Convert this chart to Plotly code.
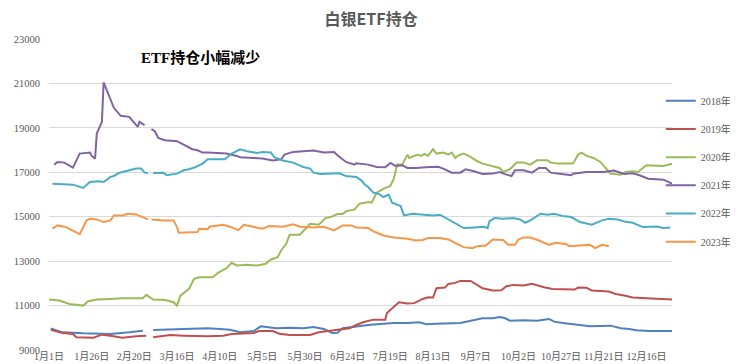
import datetime as dt
import plotly.graph_objects as go

# ---- categories: every calendar day (leap-year calendar, 366 days) ----
start = dt.date(2020, 1, 1)
categories = [f"{(start + dt.timedelta(days=i)).month}月{(start + dt.timedelta(days=i)).day}日" for i in range(366)]
tick_labels = ["1月1日", "1月26日", "2月20日", "3月16日", "4月10日", "5月5日", "5月30日",
               "6月24日", "7月19日", "8月13日", "9月7日", "10月2日", "10月27日", "11月21日", "12月16日"]
y_ticks = [9000, 11000, 13000, 15000, 17000, 19000, 21000, 23000]

# ---- series (day-of-year index, value) ----
d2018 = [1, 8, 20, 36, 47, 55, 59, 61, 79, 93, 100, 106, 112, 120, 124, 129, 133, 141, 149, 155, 161, 166, 169, 172, 180, 187,
         192, 202, 210, 217, 221, 227, 241, 249, 254, 260, 264, 267, 270, 278, 286, 293, 296, 301, 309, 317, 329, 335, 340, 344, 352, 365]
v2018 = [9975, 9795, 9750, 9720, 9795, 9870, None, 9900, 9946, 9975, 9946, 9915, 9795, 9855, 10066, 10021, 9976, 10006, 9976, 10036, 9946, 9765, 9780, 9976, 10066, 10126,
         10156, 10216, 10216, 10246, 10156, 10186, 10216, 10367, 10427, 10427, 10487, 10440, 10322, 10340, 10322, 10397, 10277, 10216, 10126, 10066, 10096, 9976, 9946, 9885, 9855, 9855]

d2019 = [1, 8, 14, 16, 26, 31, 36, 43, 51, 57, 59, 61, 71, 79, 93, 102, 107, 120, 123, 131, 135, 141, 153, 158, 165, 170, 176, 180, 184,
         190, 197, 198, 202, 205, 210, 214, 219, 222, 225, 227, 232, 234, 238, 241, 247, 251, 254, 260, 265, 268, 272,
         278, 283, 290, 295, 308, 310, 315, 318, 328, 332, 337, 342, 350, 358, 365]
v2019 = [9915, 9765, 9720, 9570, 9555, 9690, 9645, 9555, 9615, 9645, None, 9570, 9675, 9645, 9615, 9645, 9720, 9765, 9855, 9855, 9735, 9675, 9675, 9795, 9855, 9915, 9976, 10126, 10246,
         10367, 10367, 10668, 10968, 11149, 11089, 11110, 11299, 11374, 11360, 11780, 11810, 11976, 12021, 12111, 12111, 11931, 11780, 11675, 11690, 11871, 11931,
         11901, 11976, 11826, 11750, 11720, 11810, 11800, 11675, 11630, 11525, 11450, 11360, 11330, 11299, 11269]

d2020 = [0, 6, 12, 20, 23, 28, 36, 43, 51, 55, 57, 61, 68, 73, 75, 77, 79, 82, 85, 88, 93,
         96, 99, 104, 107, 110, 116, 122, 127, 130, 134, 136, 139, 141, 147, 150, 153, 158, 162, 165, 169, 172, 174, 179, 182, 187,
         189, 192, 196, 200, 202, 204, 207, 210, 211, 216, 218, 220, 222, 225, 227, 231, 234, 236, 238, 240, 243, 247, 251, 254, 258, 261, 264, 266, 270, 274, 278,
         282, 286, 292, 294, 298, 307, 310, 312, 315, 319, 323, 326, 329, 335, 338, 342, 345, 350, 355, 360, 365]
v2020 = [11269, 11224, 11074, 10999, 11194, 11269, 11299, 11330, 11330, 11330, 11480, 11269, 11254, 11149, 10999, 11450, 11570, 11750, 12202, 12277, 12277,
         12277, 12473, 12683, 12924, 12804, 12834, 12804, 12879, 13074, 13179, 13480, 13781, 14187, 14187, 14428, 14683, 14639, 14939, 14984, 15120, 15120, 15240, 15330, 15586, 15661,
         15631, 16082, 16262, 16383, 16714, 17345, 17345, 17796, 17646, 17796, 17736, 17827, 17736, 18037, 17842, 17887, 17796, 17887, 17646, 17766, 17842, 17691, 17496, 17390, 17315, 17240, 17195, 17015, 17135, 17436, 17436,
         17345, 17541, 17541, 17436, 17390, 17390, 17797, 17887, 17736, 17646, 17466, 17195, 16939, 16894, 17015, 17044, 17015, 17315, 17285, 17285, 17390]

d2021 = [3, 5, 9, 14, 18, 24, 25, 27, 28, 31, 32, 35, 38, 42, 47, 52, 53, 56, 58, 60, 62, 64, 68, 75, 80, 84, 87, 90, 93,
         104, 110, 112, 120, 125, 131, 136, 138, 143, 149, 155, 161, 167, 169, 174, 179, 180, 187,
         192, 197, 200, 203, 207, 210, 215, 223, 228, 231, 236, 241, 244, 249, 254, 260, 264, 268, 271, 273, 278,
         283, 287, 291, 294, 299, 306, 307, 315, 325, 331, 337, 342, 346, 351, 360, 365]
v2021 = [17345, 17466, 17436, 17210, 17842, 17887, 17736, 17616, 18744, 19270, 21045, 20444, 19902, 19541, 19496, 19045, 19270, 19120, None, 18940, 18850, 18548, 18443, 18398, 18187, 18037, 17992, 17887, 17887,
         17842, 17736, 17676, 17646, 17616, 17526, 17586, 17797, 17917, 17947, 17977, 17887, 17917, 17766, 17466, 17345, 17406, 17345,
         17240, 17225, 17420, 17285, 17315, 17195, 17195, 17240, 17250, 17165, 16984, 16984, 17135, 17044, 16924, 16940, 17015, 16894, 16834, 17090, 17090,
         16984, 17195, 17195, 16984, 16939, 16864, 16939, 17015, 17015, 17075, 16924, 16954, 16864, 16713, 16668, 16488]

d2022 = [2, 14, 20, 24, 29, 32, 36, 38, 41, 47, 51, 54, 56, 58, 59, 61, 67, 69, 75, 79, 82, 86, 90, 93,
         96, 103, 107, 112, 116, 122, 125, 130, 132, 137, 143, 149, 153, 155, 159, 167, 170, 174, 180, 183,
         185, 187, 190, 193, 196, 199, 201, 206, 208, 213, 219, 225, 229, 233, 237, 243, 249, 255, 257, 258, 261, 266, 272, 276, 279,
         282, 288, 292, 296, 301, 306, 311, 318, 324, 328, 333, 337, 342, 348, 356, 360, 364]
v2022 = [16488, 16443, 16293, 16563, 16593, 16563, 16789, 16834, 16969, 17075, 17165, 17165, 16984, 16969, None, 16969, 16984, 16864, 16939, 17090, 17135, 17240, 17390, 17586,
         17586, 17586, 17842, 18037, 17947, 17872, 17917, 17887, 17676, 17526, 17436, 17240, 17165, 16984, 16924, 16924, 16954, 16834, 16789, 16638,
         16450, 16338, 16082, 16037, 15887, 15992, 15631, 15480, 15060, 15135, 15090, 15060, 15090, 14909, 14728, 14488, 14518, 14548, 14488, 14789, 14939, 14909, 14939, 14879, 14728,
         14834, 15135, 15090, 15135, 15030, 14984, 14759, 14639, 14834, 14909, 14880, 14789, 14728, 14533, 14560, 14488, 14518]

d2023 = [2, 5, 10, 16, 18, 22, 24, 28, 32, 36, 38, 43, 46, 51, 55, 58, 59, 60, 67, 73, 75, 76, 82, 87, 88, 93,
         94, 102, 106, 111, 114, 120, 125, 129, 137, 143, 147, 155, 161, 167, 172, 177, 180, 187,
         190, 196, 202, 210, 215, 219, 222, 229, 234, 239, 243, 248, 251, 256, 260, 266, 269, 273, 275, 278,
         282, 287, 293, 297, 303, 305, 312, 317, 320, 324, 328]
v2023 = [14458, 14608, 14533, 14307, 14217, 14834, 14909, 14879, 14759, 14834, 15060, 15060, 15135, 15105, 14984, 14879, None, 14879, 14834, 14834, 14533, 14277, 14277, 14307, 14458, 14440,
         14548, 14639, 14548, 14398, 14639, 14548, 14458, 14578, 14548, 14654, 14548, 14518, 14548, 14383, 14608, 14608, 14518, 14488,
         14337, 14157, 14067, 14006, 13931, 13950, 14037, 14037, 13976, 13781, 13630, 13585, 13675, 13705, 13976, 13950, 13735, 13735, 13976, 14067,
         14067, 13931, 13735, 13825, 13765, 13675, 13705, 13735, 13585, 13735, 13675]

series = [
    ("2018年", d2018, v2018, "#4F81BD"),
    ("2019年", d2019, v2019, "#C0504D"),
    ("2020年", d2020, v2020, "#9BBB59"),
    ("2021年", d2021, v2021, "#8064A2"),
    ("2022年", d2022, v2022, "#4BACC6"),
    ("2023年", d2023, v2023, "#F79646"),
]

SERIF = "Liberation Serif, Noto Sans CJK SC, serif"
SANS = "Noto Sans CJK SC, sans-serif"
GREY = "#595959"

fig = go.Figure()
for i, (name, xs, ys, color) in enumerate(series):
    fig.add_trace(go.Scatter(
        x=xs, y=ys, mode="lines", name=name, connectgaps=False,
        line=dict(color=color, width=2), legendgroup=f"g{i}",
    ))

tickvals = [categories.index(t) for t in tick_labels]

fig.update_layout(
    width=738, height=364,
    margin=dict(l=41, r=74, t=31, b=22, autoexpand=False),
    paper_bgcolor="white", plot_bgcolor="white",
    title=dict(text="<b>白银ETF持仓</b>", x=0.492, xref="container", xanchor="center",
               y=1, yref="container", yanchor="top", pad=dict(t=6), automargin=False,
               font=dict(family=SANS, size=16, color=GREY)),
    showlegend=True,
    legend=dict(x=0.982, xref="paper", y=0.848, yanchor="top", xanchor="left",
                font=dict(family=SERIF, size=10, color=GREY),
                tracegroupgap=9.2, itemwidth=30, bgcolor="rgba(0,0,0,0)", borderwidth=0),
    xaxis=dict(range=[0, 365], tickmode="array", tickvals=tickvals, ticktext=tick_labels,
               showgrid=False, zeroline=False, showline=False, ticks="", tickangle=0, automargin=False,
               tickfont=dict(family=SERIF, size=10, color=GREY), ticklabelstandoff=-1),
    yaxis=dict(range=[9000, 23000], tickmode="array", tickvals=y_ticks, ticktext=[str(v) for v in y_ticks],
               showgrid=True, gridcolor="#D9D9D9", gridwidth=1, zeroline=False, showline=False, automargin=False,
               ticks="", tickfont=dict(family=SERIF, size=10.5, color=GREY), ticklabelstandoff=8),
    annotations=[dict(text="<b>ETF持仓小幅减少</b>", xref="paper", yref="paper", x=0.243, y=0.94,
                      showarrow=False, xanchor="center", yanchor="middle",
                      font=dict(family=SERIF, size=15, color="black"))],
)

fig.write_html("out.html")
